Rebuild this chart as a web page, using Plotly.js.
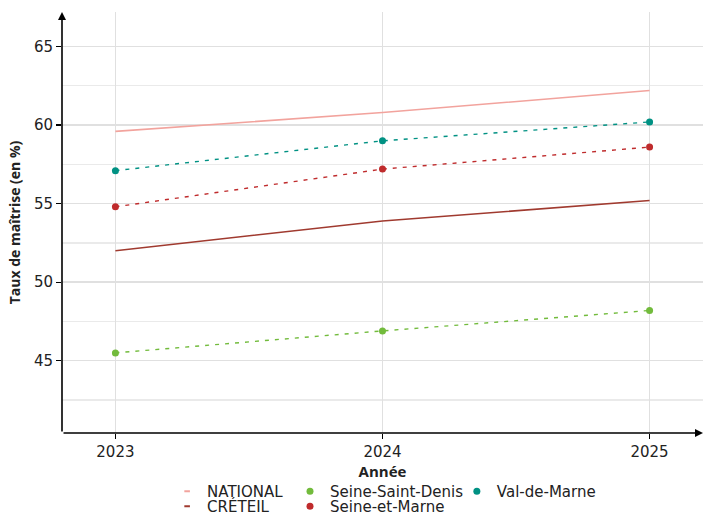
<!DOCTYPE html>
<html><head><meta charset="utf-8">
<script src="https://cdn.plot.ly/plotly-3.0.1.min.js"></script>
<style>html,body{margin:0;padding:0;background:#fff}#chart{width:705px;height:515px}</style>
</head><body><div id="chart"></div>
<script>
const years = [2023, 2024, 2025];
const national = [59.6, 60.8, 62.2];
const creteil = [52.0, 53.9, 55.2];
const seineSaintDenis = [45.5, 46.9, 48.2];
const seineEtMarne = [54.8, 57.2, 58.6];
const valDeMarne = [57.1, 59.0, 60.2];
const yTicks = [45, 50, 55, 60, 65];

const colNational = '#f2a39d', colCreteil = '#a03a2f', colSSD = '#72bb3c', colSeM = '#bf2b2c', colVdM = '#009183';
const tickFont = 'DejaVu Sans, sans-serif';
const titleFont = 'Open Sans, sans-serif';

const traces = [
  {x: years, y: national, mode: 'lines', line: {color: colNational, width: 1.6}, showlegend: false},
  {x: years, y: creteil, mode: 'lines', line: {color: colCreteil, width: 1.6}, showlegend: false},
  {x: years, y: seineSaintDenis, mode: 'lines+markers', line: {color: colSSD, width: 1.4, dash: '4px,6px'}, marker: {color: colSSD, size: 7}, showlegend: false},
  {x: years, y: seineEtMarne, mode: 'lines+markers', line: {color: colSeM, width: 1.4, dash: '4px,6px'}, marker: {color: colSeM, size: 7}, showlegend: false},
  {x: years, y: valDeMarne, mode: 'lines+markers', line: {color: colVdM, width: 1.4, dash: '4px,6px'}, marker: {color: colVdM, size: 7}, showlegend: false},
  // legend entries
  {x: [null], y: [null], name: 'NATIONAL', mode: 'markers', marker: {symbol: 'line-ew', size: 4, line: {color: colNational, width: 2}}, legend: 'legend'},
  {x: [null], y: [null], name: 'CRÉTEIL', mode: 'markers', marker: {symbol: 'line-ew', size: 4, line: {color: colCreteil, width: 2}}, legend: 'legend2'},
  {x: [null], y: [null], name: 'Seine-Saint-Denis', mode: 'markers', marker: {color: colSSD, size: 7}, legend: 'legend3'},
  {x: [null], y: [null], name: 'Seine-et-Marne', mode: 'markers', marker: {color: colSeM, size: 7}, legend: 'legend4'},
  {x: [null], y: [null], name: 'Val-de-Marne', mode: 'markers', marker: {color: colVdM, size: 7}, legend: 'legend5'}
];

const row1 = -0.0998, row2 = -0.1354;
const col1 = 0.164, col2 = 0.3557, col3 = 0.616;
function leg(x, y) {
  return {orientation: 'v', yanchor: 'top', xanchor: 'left', x: x, y: y, bgcolor: 'rgba(0,0,0,0)',
          font: {family: tickFont, size: 15, color: '#222'}, itemwidth: 30};
}

const layout = {
  width: 705, height: 515,
  margin: {l: 62, r: 2, t: 12, b: 82, autoexpand: false},
  paper_bgcolor: '#fff', plot_bgcolor: '#fff',
  font: {family: tickFont, size: 15, color: '#222'},
  xaxis: {
    range: [2022.8, 2025.2], tickvals: years, ticktext: years.map(String),
    showgrid: true, gridcolor: '#e0e0e0', gridwidth: 1.5,
    ticks: 'outside', ticklen: 5, tickwidth: 1.3, tickcolor: '#000',
    showline: false, zeroline: false, automargin: false,
    tickfont: {family: tickFont, size: 15, color: '#222'},
    title: {text: '<b>Année</b>', font: {family: titleFont, size: 15, color: '#222'}, standoff: 6}
  },
  yaxis: {
    range: [40.4, 67.2], tickvals: yTicks,
    showgrid: true, gridcolor: '#e0e0e0', gridwidth: 1.5,
    minor: {tick0: 42.5, dtick: 5, showgrid: true, gridcolor: '#eaeaea', gridwidth: 1.3, ticks: ''},
    ticks: 'outside', ticklen: 5, tickwidth: 1.3, tickcolor: '#000',
    showline: false, zeroline: false, automargin: false,
    tickfont: {family: tickFont, size: 15, color: '#222'},
    title: {text: '<b>Taux de maîtrise (en %)</b>', font: {family: titleFont, size: 14, color: '#222'}, standoff: 10}
  },
  legend: leg(col1, row1),
  legend2: leg(col1, row2),
  legend3: leg(col2, row1),
  legend4: leg(col2, row2),
  legend5: leg(col3, row1),
  annotations: [
    {xref: 'x', yref: 'y', axref: 'x', ayref: 'y', x: 2022.8, y: 67.2, ax: 2022.8, ay: 40.4, showarrow: true, arrowhead: 2, arrowsize: 1, arrowwidth: 1.6, arrowcolor: '#000', text: ''},
    {xref: 'x', yref: 'y', axref: 'x', ayref: 'y', x: 2025.2, y: 40.4, ax: 2022.8, ay: 40.4, showarrow: true, arrowhead: 2, arrowsize: 1, arrowwidth: 1.6, arrowcolor: '#000', text: ''}
  ]
};

Plotly.newPlot('chart', traces, layout, {displayModeBar: false, staticPlot: true});
</script>
</body></html>
